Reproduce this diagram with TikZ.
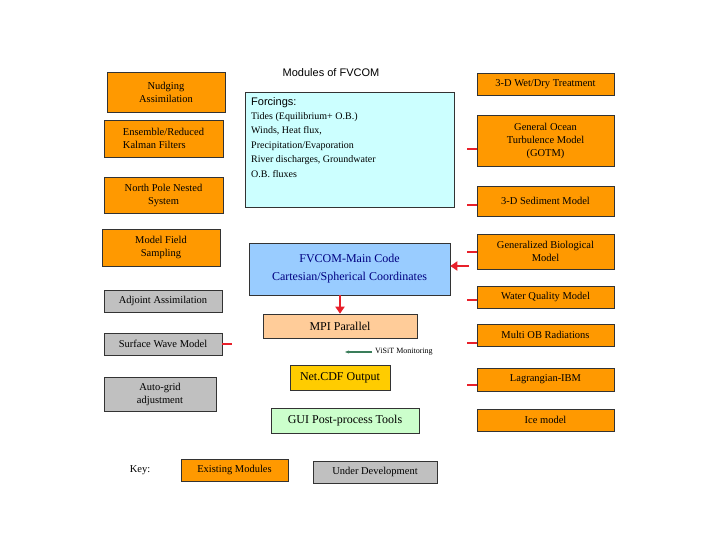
\documentclass[tikz,border=0pt]{standalone}
\usepackage{fontspec}
\setmainfont{Liberation Serif}
\newfontfamily\sansf{Liberation Sans}
\usetikzlibrary{arrows.meta}
\definecolor{org}{HTML}{FF9900}
\definecolor{gry}{HTML}{C0C0C0}
\definecolor{cyn}{HTML}{CCFFFF}
\definecolor{blu}{HTML}{99CCFF}
\definecolor{pch}{HTML}{FFCC99}
\definecolor{gld}{HTML}{FFCC00}
\definecolor{lgr}{HTML}{CCFFCC}
\definecolor{rd}{HTML}{E8202A}
\definecolor{grn}{HTML}{3A7D5A}
\begin{document}
\begin{tikzpicture}[x=1pt,y=-1pt,
  bx/.style={draw=black!80,line width=0.6pt,inner sep=1pt,align=center,font=\fontsize{10.5}{13}\selectfont},
  ob/.style={bx,fill=org}, gb/.style={bx,fill=gry},
  tick/.style={draw=rd,line width=2.2pt},
  rarr/.style={draw=rd,line width=2.6pt,-{Triangle[length=7pt,width=9pt]}}]
\useasboundingbox (0,0) rectangle (720,540);
\newcommand\bxx[7]{\node[#6,minimum width=#4-#2,minimum height=#5-#3] (#1) at ({(#2+#4)/2},{(#3+#5)/2}) {#7};}
\bxx{nud}{107}{72}{225}{112}{ob}{Nudging\\Assimilation}
\bxx{ens}{104}{120}{223}{157}{ob,align=left}{Ensemble/Reduced\\Kalman Filters}
\bxx{npn}{104}{177}{223}{213}{ob}{North Pole Nested\\System}
\bxx{mfs}{102}{229}{220}{266}{ob}{Model Field\\Sampling}
\bxx{adj}{104}{290}{222}{312}{gb}{Adjoint Assimilation}
\bxx{swm}{104}{333}{222}{355}{gb}{Surface Wave Model}
\bxx{agr}{104}{377}{216}{411}{gb}{Auto-grid\\adjustment}
\node[font=\sansf\fontsize{11}{13}\selectfont] (title) at (331,73) {Modules of FVCOM};
\bxx{frc}{245}{92}{454}{207}{bx,fill=cyn}{}
\node[anchor=north west,align=left,inner sep=0pt,font=\fontsize{10}{14.5}\selectfont] (frct) at (251,112) {Tides (Equilibrium+ O.B.)\\Winds, Heat flux,\\Precipitation/Evaporation\\River discharges, Groundwater\\O.B. fluxes};
\node[anchor=west,inner sep=0pt,font=\sansf\fontsize{11}{13}\selectfont] (frch) at (251,103) {Forcings:};
\bxx{main}{249}{243}{450}{295}{bx,fill=blu,text=blue!50!black,font=\fontsize{12}{18}\selectfont}{FVCOM-Main Code\\Cartesian/Spherical Coordinates}
\bxx{mpi}{263}{314}{417}{338}{bx,fill=pch,font=\fontsize{12}{14}\selectfont}{MPI Parallel}
\bxx{ncd}{290}{365}{390}{390}{bx,fill=gld,font=\fontsize{12}{14}\selectfont}{Net.CDF Output}
\bxx{gui}{271}{408}{419}{433}{bx,fill=lgr,font=\fontsize{12}{14}\selectfont}{GUI Post-process Tools}
\bxx{wd}{477}{73}{614}{95}{ob}{3-D Wet/Dry Treatment}
\bxx{gotm}{477}{115}{614}{166}{ob}{General Ocean\\Turbulence Model\\(GOTM)}
\bxx{sed}{477}{186}{614}{216}{ob}{3-D Sediment Model}
\bxx{bio}{477}{234}{614}{269}{ob}{Generalized Biological\\Model}
\bxx{wq}{477}{286}{614}{308}{ob}{Water Quality Model}
\bxx{mob}{477}{324}{614}{346}{ob}{Multi OB Radiations}
\bxx{lag}{477}{368}{614}{391}{ob}{Lagrangian-IBM}
\bxx{ice}{477}{409}{614}{431}{ob}{Ice model}
\node[font=\fontsize{10.5}{13}\selectfont] (key) at (140,470) {Key:};
\bxx{kex}{181}{459}{288}{481}{ob}{Existing Modules}
\bxx{kud}{313}{461}{437}{483}{gb}{Under Development}
\foreach \n/\y in {gotm/149,sed/205,bio/252,wq/300,mob/343,lag/385}
  \draw[tick] (\n.west|-0,\y) -- ++(-10,0);
\draw[tick] (swm.east) -- ++(10,0);
\coordinate (ra) at (469,266);
\draw[rarr] (ra) -- (main.east|-ra);
\draw[rarr] (main.south-|340,0) -- (mpi.north-|340,0);
\node[anchor=west,inner sep=0pt,font=\fontsize{8}{9}\selectfont] (vis) at (375,352) {ViSiT Monitoring};
\draw[grn,line width=1.3pt,-{Stealth[length=4pt]}] (vis.west) ++(-3,0) -- ++(-27,0);
\end{tikzpicture}
\end{document}
